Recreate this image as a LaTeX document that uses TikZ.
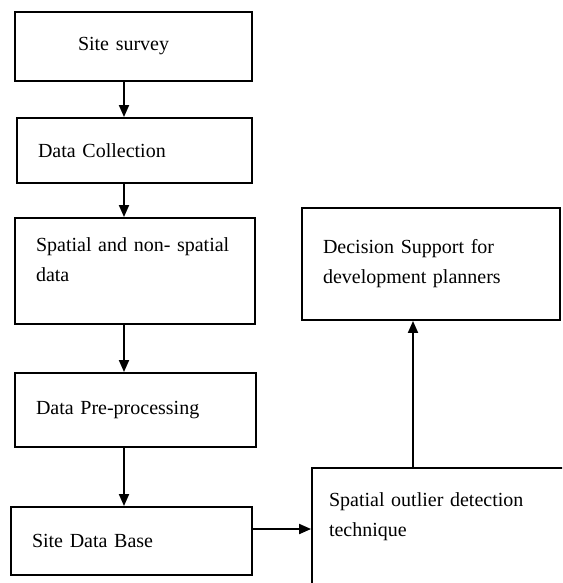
\documentclass[tikz,border=0pt]{standalone}
\usepackage{fontspec}
\setmainfont{Liberation Serif}
\usetikzlibrary{arrows.meta}

\begin{document}
\begin{tikzpicture}[x=1pt,y=-1pt,
    blk/.style={draw,line width=1.9pt,align=left,inner xsep=21pt,inner ysep=0pt,
        font=\fontsize{20}{30}\selectfont},
    arr/.style={line width=1.9pt,-{Triangle[length=12pt,width=10pt]}}]

    % Fix the page and cut off what runs past its edge
    \useasboundingbox (0,0) rectangle (562,583);
    \clip (0,0) rectangle (562,583);

    % Draw the steps of the left column
    \node[blk,text width=195pt,minimum height=69pt] (survey) at (133.5,46.5) {\hspace*{42pt}Site survey};
    \node[blk,text width=193pt,minimum height=65pt] (collect) at (134.5,150.5) {Data Collection};
    \node[blk,text width=198pt,minimum height=106pt] (spatial) at (135,271) {Spatial and non- spatial\\ data\\[-8pt]\mbox{}};
    \node[blk,text width=199pt,minimum height=74pt] (prepro) at (135.5,410) {Data Pre-processing};
    \node[blk,text width=199pt,minimum height=68pt] (sitedb) at (131.5,541) {Site Data Base};

    % Draw the two boxes on the right
    \node[blk,text width=216pt,minimum height=112pt] (decision) at (431,264) {Decision Support for\\ development planners};
    \node[blk,inner xsep=17pt,text width=234pt,minimum height=132pt] (outlier) at (446,534) {Spatial outlier detection\\ technique\\[8pt]\mbox{}};

    % Draw the arrows between the steps
    \coordinate (mid) at (124,0);
    \foreach \a/\b in {survey/collect,collect/spatial,spatial/prepro,prepro/sitedb} {
        \draw[arr] (\a.south -| mid) -- (\b.north -| mid);
    }
    \coordinate (link) at (0,529);
    \draw[arr] (sitedb.east |- link) -- (outlier.west |- link);
    \coordinate (up) at (413,0);
    \draw[arr] (outlier.north -| up) -- (decision.south -| up);

\end{tikzpicture}
\end{document}
